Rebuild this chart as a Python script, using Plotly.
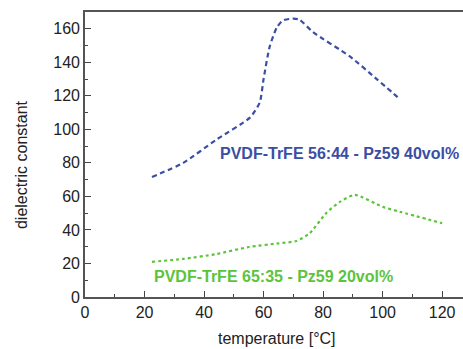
import plotly.graph_objects as go

temp_blue = [22.5, 33, 44, 55.4, 58.7, 60, 62, 64.4, 66.5, 69.8, 72, 76.6, 89, 98, 105.7]
eps_blue = [71.6, 80, 93.7, 107, 116, 130, 149, 160.6, 165, 166, 165.5, 158, 143.5, 130, 118.2]

temp_green = [22.5, 33, 44, 55, 65, 71, 75.5, 81, 85.6, 90.6, 100, 105.7, 120]
eps_green = [21, 22.7, 25.6, 29.8, 32, 33.4, 38, 50, 56.7, 60.9, 53.8, 50.9, 44]

label_blue = "PVDF-TrFE 56:44 - Pz59 40vol%"
label_green = "PVDF-TrFE 65:35 - Pz59 20vol%"
x_title = "temperature [°C]"
y_title = "dielectric constant"

x_ticks = [0, 20, 40, 60, 80, 100, 120]
y_ticks = [0, 20, 40, 60, 80, 100, 120, 140, 160]

blue = "#3a4ea3"
green = "#5cc43c"
font = "Liberation Sans, Arial, sans-serif"

fig = go.Figure()
fig.add_trace(go.Scatter(x=temp_blue, y=eps_blue, mode="lines", line=dict(color=blue, width=2.2, dash="5px,3.5px", shape="spline", smoothing=0.6)))
fig.add_trace(go.Scatter(x=temp_green, y=eps_green, mode="lines", line=dict(color=green, width=2.2, dash="dot", shape="spline", smoothing=0.6)))

fig.add_annotation(x=85.6, y=85.7, text="<b>" + label_blue + "</b>", showarrow=False, font=dict(color=blue, size=16, family=font), xanchor="center", yanchor="middle")
fig.add_annotation(x=63.4, y=12.5, text="<b>" + label_green + "</b>", showarrow=False, font=dict(color=green, size=16, family=font), xanchor="center", yanchor="middle")

# axis titles placed as annotations (paper coordinates relative to plot area)
fig.add_annotation(xref="paper", yref="paper", x=-0.1693, y=0.463, text=y_title, textangle=-90, showarrow=False,
                   font=dict(size=16, family=font, color="#222"), xanchor="center", yanchor="middle")
fig.add_annotation(xref="paper", yref="paper", x=0.5085, y=-0.1825, text=x_title, showarrow=False,
                   font=dict(size=16, family=font, color="#222"), xanchor="center", yanchor="bottom")

fig.update_layout(
    width=463, height=349,
    margin=dict(l=85, r=0, t=12, b=52),
    paper_bgcolor="white", plot_bgcolor="white",
    showlegend=False,
    font=dict(family=font, size=16, color="#222"),
)
fig.update_xaxes(
    range=[0, 127], tickvals=x_ticks, ticks="inside", ticklen=6, tickwidth=1.2, tickcolor="#444",
    minor=dict(dtick=10, ticks="inside", ticklen=3, tickcolor="#444"),
    showline=True, linecolor="#555", linewidth=1.6, mirror=True, showgrid=False, zeroline=False,
    automargin=False, tickfont=dict(size=16),
)
fig.update_yaxes(
    range=[0, 170], tickvals=y_ticks, ticks="inside", ticklen=6, tickwidth=1.2, tickcolor="#444",
    minor=dict(dtick=10, ticks="inside", ticklen=3, tickcolor="#444"),
    showline=True, linecolor="#555", linewidth=1.6, showgrid=False, zeroline=False,
    automargin=False, tickfont=dict(size=16),
)
fig.write_html("out.html", config={"displayModeBar": False}, post_script="document.body.style.margin='0';")
